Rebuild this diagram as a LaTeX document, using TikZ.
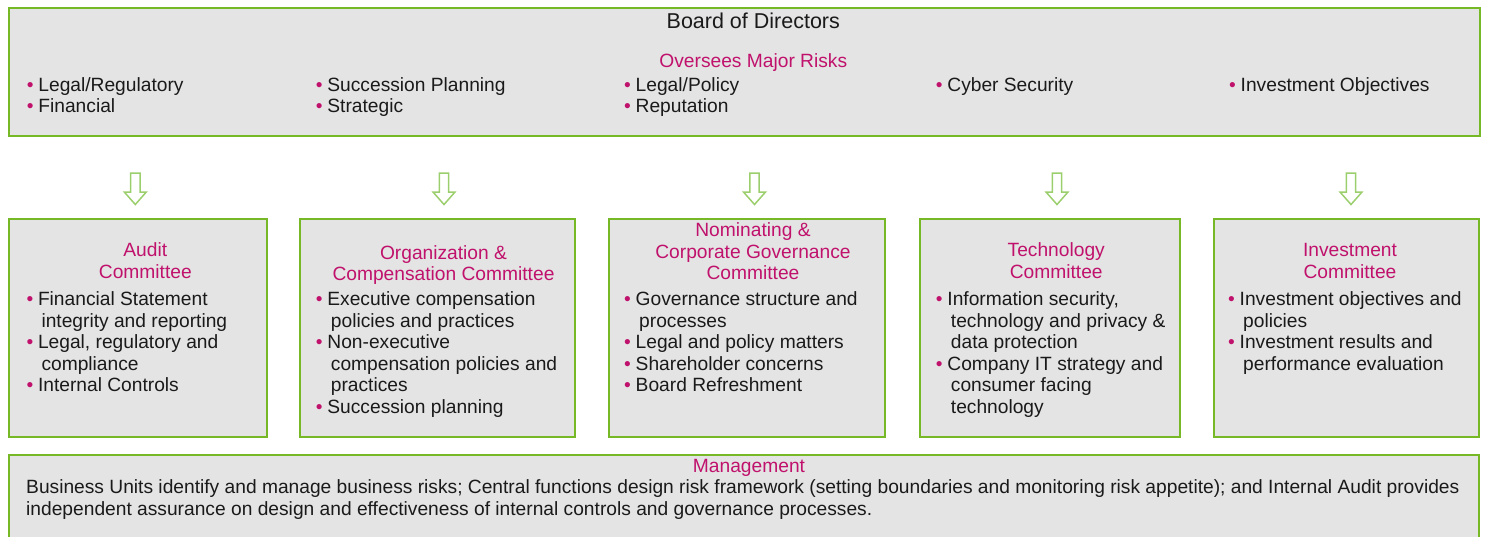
\documentclass[tikz,border=0pt]{standalone}
\usepackage{fontspec}
\setmainfont{Liberation Sans}

\definecolor{frame}{HTML}{77B826}
\definecolor{panel}{HTML}{E4E4E4}
\definecolor{accent}{HTML}{C0126C}
\definecolor{arrowgreen}{HTML}{9BCE6C}
\definecolor{ink}{HTML}{1A1A1A}

% bullet marker and continuation indent for the lists
\newcommand\bu{\makebox[11.5pt][l]{\textcolor{accent}{\textbullet}}}
\newcommand\cn{\hspace*{15pt}}
\newcommand\bodyfont{\fontsize{19.2}{21.5}\selectfont}
\newcommand\topfont{\fontsize{19.2}{20.8}\selectfont}
\newcommand\mgmtfont{\fontsize{19.2}{21.7}\selectfont}
% stacked lines whose baseline is the first line
\newcommand\leftlines[1]{\begin{tabular}[t]{@{}l@{}}#1\end{tabular}}
\newcommand\midlines[1]{\begin{tabular}[t]{@{}c@{}}#1\end{tabular}}

\tikzset{
  panelbox/.style={draw=frame, fill=panel, line width=2pt, rectangle,
    inner sep=0pt, anchor=north west},
  listtext/.style={anchor=base west, inner sep=0pt, font=\bodyfont, text=ink},
  toplist/.style={anchor=base west, inner sep=0pt, font=\topfont, text=ink},
  heading/.style={anchor=base, inner sep=0pt, font=\bodyfont, text=accent},
  downarr/.pic={
    \draw[arrowgreen, line width=1.5pt, line join=miter]
      (-4.7,0) -- (4.7,0) -- (4.7,19) -- (11,19) -- (0,31.5)
      -- (-11,19) -- (-4.7,19) -- cycle;
  }
}

\begin{document}
\begin{tikzpicture}[x=1pt, y=-1pt]
\useasboundingbox (0,0) rectangle (1485,536);

% ---- Board of Directors ----
\node[panelbox, minimum width=1470.7pt, minimum height=128pt] (board) at (8.3,7) {};
\node[anchor=base, inner sep=0pt, font=\fontsize{21.5}{24}\selectfont, text=ink]
  (boardtitle) at (753.3,28.3) {Board of Directors};
\node[heading] (risks) at (753.3,67.5) {Oversees Major Risks};
\node[toplist] (r1) at (26.7,91.5) {\leftlines{\bu Legal/Regulatory\\ \bu Financial}};
\node[toplist] (r2) at (315.7,91.5) {\leftlines{\bu Succession Planning\\ \bu Strategic}};
\node[toplist] (r3) at (624,91.5) {\leftlines{\bu Legal/Policy\\ \bu Reputation}};
\node[toplist] (r4) at (935.7,91.5) {\leftlines{\bu Cyber Security}};
\node[toplist] (r5) at (1229,91.5) {\leftlines{\bu Investment Objectives}};

% ---- arrows down to the committees ----
\pic at (135.3,173) {downarr};
\pic at (444,173) {downarr};
\pic at (754.5,173) {downarr};
\pic at (1057,173) {downarr};
\pic at (1351,173) {downarr};

% ---- Committees ----
\node[panelbox, minimum width=257.7pt, minimum height=217.5pt] (audit) at (8.3,218.3) {};
\node[panelbox, minimum width=274.2pt, minimum height=217.5pt] (org) at (299.3,218.3) {};
\node[panelbox, minimum width=276.8pt, minimum height=217.5pt] (nom) at (607.5,218.3) {};
\node[panelbox, minimum width=260pt, minimum height=217.5pt] (tech) at (919,218.3) {};
\node[panelbox, minimum width=264.4pt, minimum height=217.5pt] (inv) at (1213.3,218.3) {};

\node[heading] (audittitle) at (145.3,256.7) {\midlines{Audit\\ Committee}};
\node[heading] (orgtitle) at (443.5,259.3) {\midlines{Organization \&\\ Compensation Committee}};
\node[heading] (nomtitle) at (753,236.7) {\midlines{Nominating \&\\ Corporate Governance\\ Committee}};
\node[heading] (techtitle) at (1056.2,256.7) {\midlines{Technology\\ Committee}};
\node[heading] (invtitle) at (1350,256.7) {\midlines{Investment\\ Committee}};

\node[listtext] (auditlist) at (26.3,305.7) {\leftlines{%
  \bu Financial Statement\\ \cn integrity and reporting\\
  \bu Legal, regulatory and\\ \cn compliance\\
  \bu Internal Controls}};
\node[listtext] (orglist) at (315.7,305.7) {\leftlines{%
  \bu Executive compensation\\ \cn policies and practices\\
  \bu Non-executive\\ \cn compensation policies and\\ \cn practices\\
  \bu Succession planning}};
\node[listtext] (nomlist) at (624,305.7) {\leftlines{%
  \bu Governance structure and\\ \cn processes\\
  \bu Legal and policy matters\\
  \bu Shareholder concerns\\
  \bu Board Refreshment}};
\node[listtext] (techlist) at (935.7,305.7) {\leftlines{%
  \bu Information security,\\ \cn technology and privacy \&\\ \cn data protection\\
  \bu Company IT strategy and\\ \cn consumer facing\\ \cn technology}};
\node[listtext] (invlist) at (1228,305.7) {\leftlines{%
  \bu Investment objectives and\\ \cn policies\\
  \bu Investment results and\\ \cn performance evaluation}};

% ---- Management ----
\node[panelbox, minimum width=1469.7pt, minimum height=100pt] (mgmt) at (8.3,454.3) {};
\node[heading] (mgmttitle) at (749,472) {Management};
\node[anchor=base west, inner sep=0pt, font=\mgmtfont, text=ink] (mgmttext) at (26,493.3)
  {\leftlines{Business Units identify and manage business risks; Central functions design risk framework (setting boundaries and monitoring risk appetite); and Internal Audit provides\\
  independent assurance on design and effectiveness of internal controls and governance processes.}};
\end{tikzpicture}
\end{document}
